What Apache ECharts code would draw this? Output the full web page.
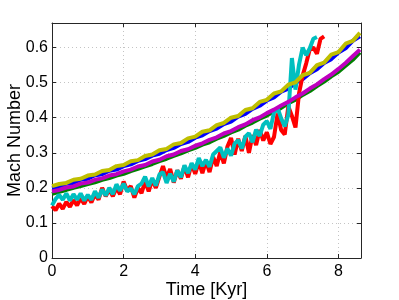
<!DOCTYPE html>
<html>
<head>
<meta charset="utf-8">
<script src="https://cdn.jsdelivr.net/npm/echarts@6/dist/echarts.min.js"></script>
<style>
html,body{margin:0;padding:0;background:#fff;}
#c{width:399px;height:300px;}
</style>
</head>
<body>
<div id="c"></div>
<script>
// ---- data ----
var tSmooth = [0,0.2,0.4,0.6,0.8,1.0,1.2,1.4,1.6,1.8,2.0,2.2,2.4,2.6,2.8,3.0,3.2,3.4,3.6,3.8,4.0,4.2,4.4,4.6,4.8,5.0,5.2,5.4,5.6,5.8,6.0,6.2,6.4,6.6,6.8,7.0,7.2,7.4,7.6,7.8,8.0,8.2,8.4,8.6];
var blueVals = [0.199,0.203,0.212,0.214,0.223,0.226,0.236,0.239,0.249,0.252,0.262,0.267,0.277,0.282,0.292,0.297,0.308,0.314,0.325,0.331,0.343,0.35,0.362,0.369,0.382,0.389,0.403,0.411,0.425,0.434,0.449,0.458,0.474,0.483,0.5,0.51,0.527,0.538,0.556,0.567,0.586,0.598,0.619,0.632];
var greenVals = [0.183,0.189,0.194,0.2,0.205,0.211,0.216,0.223,0.228,0.235,0.24,0.248,0.254,0.261,0.268,0.276,0.283,0.291,0.298,0.307,0.314,0.323,0.33,0.34,0.348,0.358,0.366,0.377,0.386,0.397,0.406,0.418,0.428,0.441,0.451,0.465,0.476,0.49,0.503,0.518,0.531,0.548,0.565,0.586];
var magentaVals = [0.19,0.194,0.201,0.204,0.212,0.215,0.223,0.227,0.235,0.239,0.247,0.252,0.261,0.265,0.275,0.28,0.29,0.295,0.305,0.31,0.32,0.327,0.337,0.344,0.355,0.362,0.373,0.381,0.393,0.401,0.413,0.423,0.435,0.445,0.458,0.469,0.483,0.495,0.51,0.523,0.539,0.556,0.575,0.594];
var yellowVals = [0.205,0.211,0.214,0.223,0.226,0.235,0.238,0.248,0.251,0.262,0.265,0.276,0.279,0.291,0.295,0.307,0.311,0.324,0.328,0.341,0.346,0.36,0.364,0.379,0.385,0.4,0.405,0.422,0.427,0.445,0.451,0.469,0.475,0.494,0.501,0.521,0.528,0.55,0.557,0.58,0.587,0.611,0.619,0.642];

var tRed = [0,0.1,0.2,0.3,0.4,0.5,0.6,0.7,0.8,0.9,1.0,1.1,1.2,1.3,1.4,1.5,1.6,1.7,1.8,1.9,2.0,2.1,2.2,2.3,2.4,2.5,2.6,2.7,2.8,2.9,3.0,3.1,3.2,3.3,3.4,3.5,3.6,3.7,3.8,3.9,4.0,4.1,4.2,4.3,4.4,4.5,4.6,4.7,4.8,4.9,5.0,5.1,5.2,5.3,5.4,5.5,5.6,5.7,5.8,5.9,6.0,6.1,6.2,6.3,6.4,6.5,6.6,6.7,6.8,6.9,7.0,7.1,7.2,7.3,7.4,7.5,7.6];
var redVals = [0.148,0.136,0.155,0.14,0.16,0.146,0.165,0.15,0.17,0.154,0.176,0.158,0.182,0.166,0.2,0.176,0.195,0.176,0.2,0.182,0.218,0.192,0.205,0.172,0.2,0.185,0.218,0.19,0.224,0.2,0.232,0.262,0.228,0.254,0.215,0.25,0.226,0.262,0.23,0.268,0.24,0.274,0.242,0.276,0.245,0.288,0.262,0.302,0.27,0.318,0.342,0.295,0.34,0.305,0.348,0.3,0.35,0.322,0.365,0.335,0.358,0.325,0.345,0.412,0.365,0.352,0.432,0.405,0.372,0.47,0.52,0.555,0.595,0.6,0.582,0.625,0.632];

var tCyan = [0,0.1,0.2,0.3,0.4,0.5,0.6,0.7,0.8,0.9,1.0,1.1,1.2,1.3,1.4,1.5,1.6,1.7,1.8,1.9,2.0,2.1,2.2,2.3,2.4,2.5,2.6,2.7,2.8,2.9,3.0,3.1,3.2,3.3,3.4,3.5,3.6,3.7,3.8,3.9,4.0,4.1,4.2,4.3,4.4,4.5,4.6,4.7,4.8,4.9,5.0,5.1,5.2,5.3,5.4,5.5,5.6,5.7,5.8,5.9,6.0,6.1,6.2,6.3,6.4,6.5,6.6,6.7,6.8,6.9,7.0,7.1,7.2,7.3,7.4];
var cyanVals = [0.15,0.168,0.18,0.166,0.184,0.164,0.182,0.166,0.184,0.164,0.18,0.166,0.19,0.172,0.195,0.178,0.2,0.182,0.21,0.192,0.212,0.19,0.198,0.182,0.205,0.212,0.232,0.204,0.228,0.206,0.238,0.245,0.214,0.24,0.218,0.25,0.23,0.264,0.242,0.27,0.252,0.285,0.262,0.28,0.26,0.295,0.305,0.315,0.286,0.312,0.292,0.326,0.336,0.312,0.346,0.356,0.33,0.366,0.348,0.38,0.39,0.368,0.415,0.428,0.398,0.375,0.408,0.57,0.48,0.552,0.6,0.578,0.598,0.625,0.63];

var xTicks = [0,2,4,6,8];
var yTicks = [0,0.1,0.2,0.3,0.4,0.5,0.6];
var xTitle = 'Time [Kyr]';
var yTitle = 'Mach Number';

function pairs(t, v){ return t.map(function(x,i){ return [x, v[i]]; }); }

var chart = echarts.init(document.getElementById('c'), null, {renderer:'canvas'});
var FONT = 'Liberation Sans, Arial, Helvetica, sans-serif';
var axisCol = '#262626';
var gridLine = {show:true, lineStyle:{color:'#c4c4c4', type:[1,3], width:1}};

function mk(name, t, v, col){
  return {name:name, type:'line', data:pairs(t,v), showSymbol:false, symbol:'none',
    lineStyle:{color:col, width:4}, itemStyle:{color:col}, animation:false, silent:true};
}

chart.setOption({
  animation:false,
  grid:{left:52, right:38, top:23, bottom:42, containLabel:false, outerBoundsMode:'none'},
  xAxis:[{
    type:'value', min:0, max:8.63, interval:2,
    name:xTitle, nameLocation:'middle', nameGap:23, nameMoveOverlap:false,
    nameTextStyle:{fontFamily:FONT, fontSize:18, color:'#000'},
    axisLine:{show:true, onZero:false, lineStyle:{color:axisCol, width:1}},
    axisTick:{show:true, inside:true, length:4, lineStyle:{color:axisCol}},
    axisLabel:{fontFamily:FONT, fontSize:16, color:'#000', margin:6, showMaxLabel:false,
      formatter:function(v){ return xTicks.indexOf(v) >= 0 ? String(v) : ''; }},
    splitLine:gridLine
  },{
    type:'value', position:'top', min:0, max:8.63, interval:2,
    axisLine:{show:true, onZero:false, lineStyle:{color:axisCol, width:1}},
    axisTick:{show:true, inside:true, length:4, lineStyle:{color:axisCol}},
    axisLabel:{show:false}, splitLine:{show:false}
  }],
  yAxis:[{
    type:'value', min:0, max:0.67, interval:0.1,
    name:yTitle, nameLocation:'middle', nameGap:28, nameRotate:90, nameMoveOverlap:false,
    nameTextStyle:{fontFamily:FONT, fontSize:18, color:'#000'},
    axisLine:{show:true, onZero:false, lineStyle:{color:axisCol, width:1}},
    axisTick:{show:true, inside:true, length:4, lineStyle:{color:axisCol}},
    axisLabel:{fontFamily:FONT, fontSize:16, color:'#000', margin:4, showMaxLabel:false,
      formatter:function(v){ var r = Math.round(v*10)/10; return yTicks.indexOf(r) >= 0 && Math.abs(v-r)<1e-6 ? String(r) : ''; }},
    splitLine:gridLine
  },{
    type:'value', position:'right', min:0, max:0.67, interval:0.1,
    axisLine:{show:true, onZero:false, lineStyle:{color:axisCol, width:1}},
    axisTick:{show:true, inside:true, length:4, lineStyle:{color:axisCol}},
    axisLabel:{show:false}, splitLine:{show:false}
  }],
  series:[
    mk('b', tSmooth, blueVals, '#0000ff'),
    mk('g', tSmooth, greenVals, '#008000'),
    mk('r', tRed, redVals, '#ff0000'),
    mk('c', tCyan, cyanVals, '#00bfbf'),
    mk('m', tSmooth, magentaVals, '#bf00bf'),
    mk('y', tSmooth, yellowVals, '#bfbf00')
  ]
});
</script>
</body>
</html>
